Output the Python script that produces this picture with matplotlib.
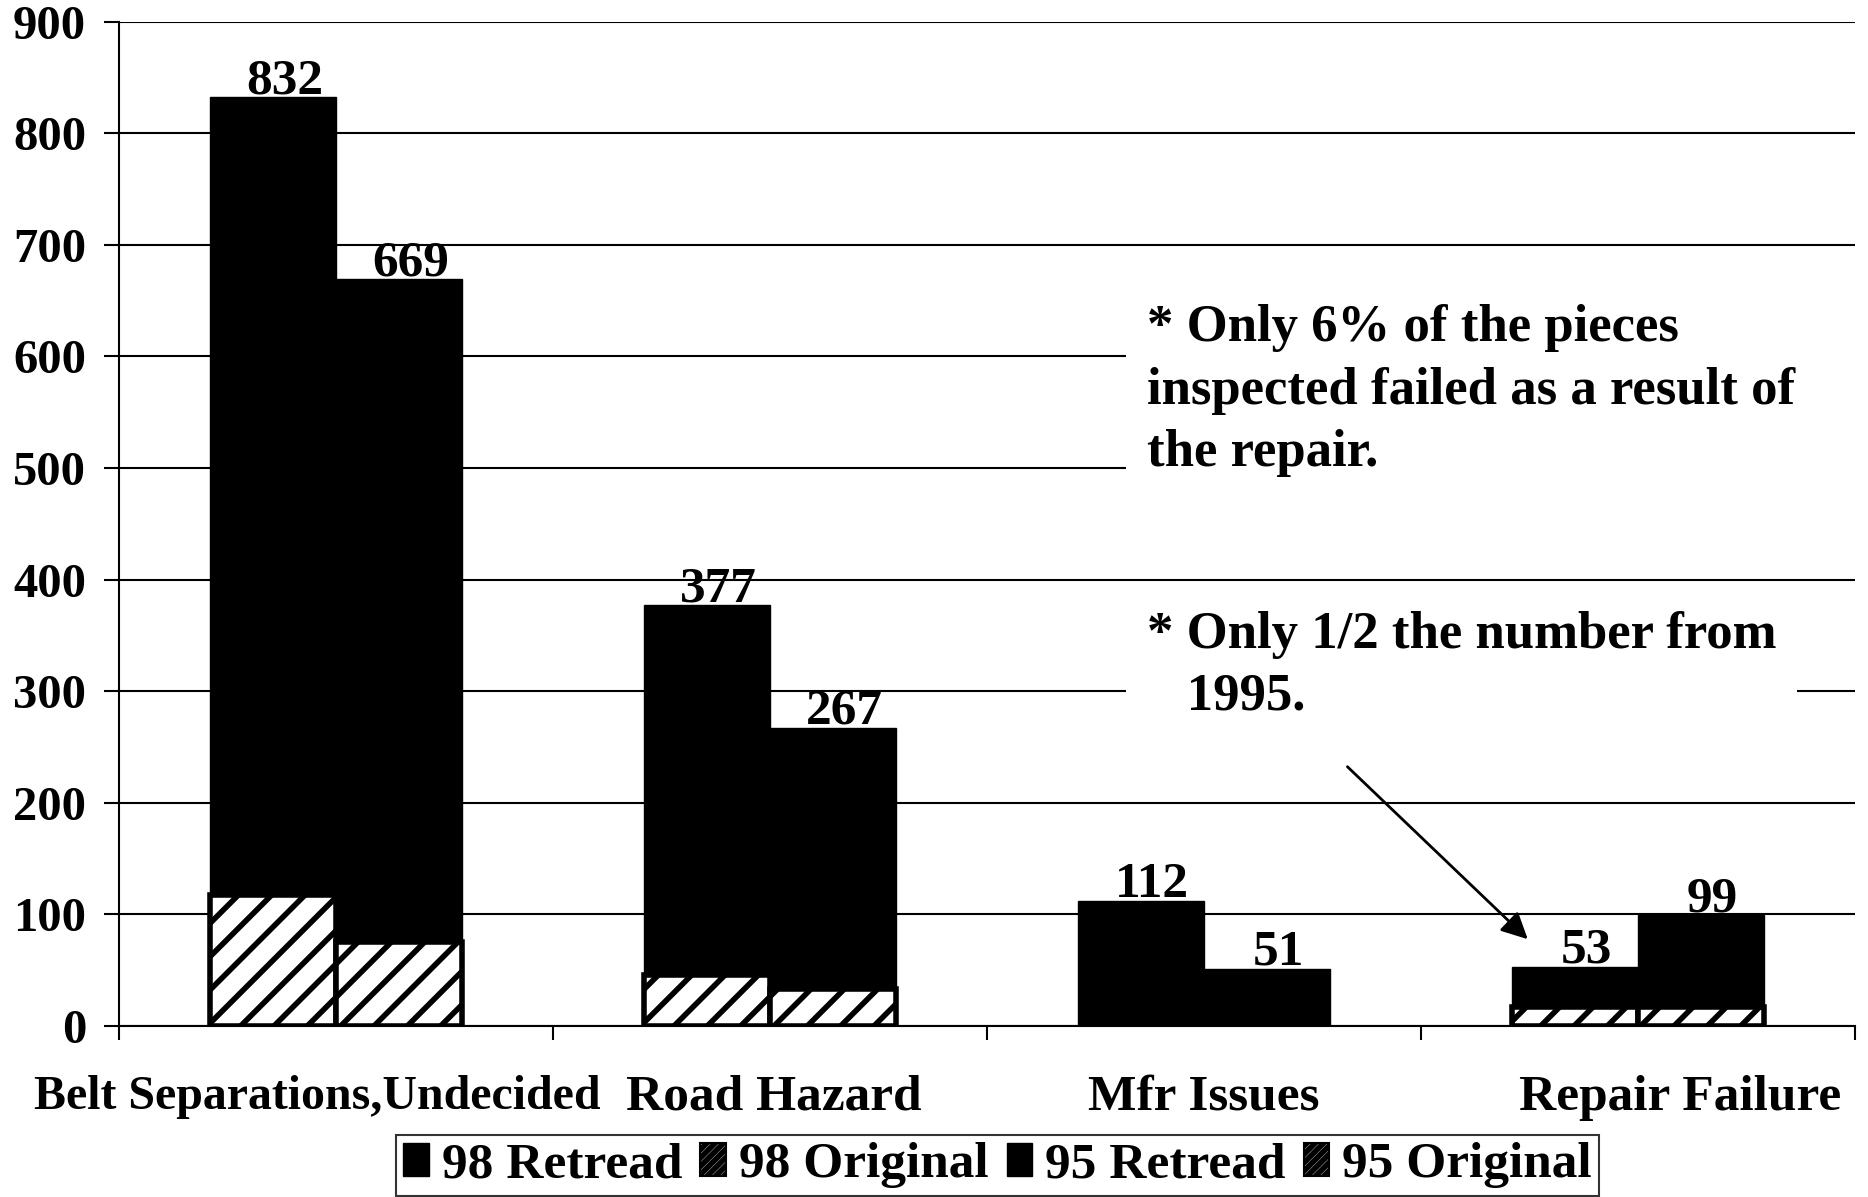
import matplotlib
matplotlib.use("Agg")
import matplotlib.pyplot as plt
import matplotlib.transforms as mtransforms
import numpy as np
from matplotlib.patches import Patch

categories = ["Belt Separations,Undecided", "Road Hazard", "Mfr Issues", "Repair Failure"]
total_98 = [832, 377, 112, 53]
total_95 = [669, 267, 51, 99]
original_98 = [117, 46, 0, 17]
original_95 = [75, 33, 0, 17]
yticks = [0, 100, 200, 300, 400, 500, 600, 700, 800, 900]
legend_labels = ["98 Retread", "98 Original", "95 Retread", "95 Original"]
note1 = "* Only 6% of the pieces\ninspected failed as a result of   \nthe repair."
note2 = "* Only 1/2 the number from\n   1995."

plt.rcParams['font.family'] = ['Liberation Serif', 'DejaVu Serif']
plt.rcParams['font.weight'] = 'bold'
plt.rcParams['hatch.linewidth'] = 4.0

fig = plt.figure(figsize=(18.68, 11.97), dpi=100)
ax = fig.add_axes([0.0639, 0.1429, 0.929, 0.8391])

x = np.arange(len(categories))
w = 0.29
retread_98 = [t - o for t, o in zip(total_98, original_98)]
retread_95 = [t - o for t, o in zip(total_95, original_95)]

ax.bar(x - w / 2, original_98, w, color='white', edgecolor='black', hatch='/', linewidth=4, zorder=3)
ax.bar(x - w / 2, retread_98, w, bottom=original_98, color='black', edgecolor='black', linewidth=1, zorder=3)
ax.bar(x + w / 2, original_95, w, color='white', edgecolor='black', hatch='/', linewidth=4, zorder=3)
ax.bar(x + w / 2, retread_95, w, bottom=original_95, color='black', edgecolor='black', linewidth=1, zorder=3)

for xs, tots in ((x - w / 2, total_98), (x + w / 2, total_95)):
    for xi, t in zip(xs, tots):
        ax.annotate(str(t), (xi, t), xytext=(8, 3), textcoords='offset points',
                    ha='center', va='baseline', fontsize=37, fontweight='bold', zorder=2)

ax.set_xlim(-0.5, len(categories) - 0.5)
ax.set_ylim(0, 900)
ax.set_yticks(yticks)
ax.set_yticklabels([str(v) for v in yticks], fontsize=35, fontweight='bold')
ax.tick_params(axis='y', length=11, width=1.5, pad=13)

ax.set_xticks(np.arange(len(categories) + 1) - 0.5)
ax.set_xticklabels([])
ax.tick_params(axis='x', which='major', length=10, width=1.5, direction='out')
ax.set_xticks(x, minor=True)
ax.set_xticklabels(categories, minor=True, fontweight='bold')
ax.tick_params(axis='x', which='minor', length=0, pad=35)
label_sizes = [34.5, 37, 37, 37]
label_shift = [-19, 4, 0, 42]
for lab, fs, dx in zip(ax.xaxis.get_minorticklabels(), label_sizes, label_shift):
    lab.set_fontsize(fs)
    lab.set_transform(lab.get_transform() + mtransforms.ScaledTranslation(dx / 100, 0, fig.dpi_scale_trans))

ax.yaxis.grid(True, color='black', linewidth=1.5, zorder=0)
ax.set_axisbelow(True)
for s in ('top', 'right'):
    ax.spines[s].set_visible(False)
ax.spines['left'].set_linewidth(1.5)
ax.spines['bottom'].set_linewidth(1.5)

ax.text(1.868, 647, note1, fontsize=38, fontweight='bold', va='top', ha='left', linespacing=1.4,
        bbox=dict(facecolor='white', edgecolor='none', pad=15), zorder=4)
ax.text(1.868, 372, note2, fontsize=38, fontweight='bold', va='top', ha='left', linespacing=1.38,
        bbox=dict(facecolor='white', edgecolor='none', pad=15), zorder=4)
ax.annotate("", xy=(2.751, 76), xytext=(2.326, 234),
            arrowprops=dict(arrowstyle='-|>', color='black', lw=2, mutation_scale=40), zorder=5)

handles = [Patch(facecolor='black', edgecolor='black'),
           Patch(facecolor='white', edgecolor='black', hatch='////', linewidth=1.5),
           Patch(facecolor='black', edgecolor='black'),
           Patch(facecolor='white', edgecolor='black', hatch='////', linewidth=1.5)]
leg = fig.legend(handles, legend_labels, loc='upper center', bbox_to_anchor=(0.534, 0.052), ncol=4,
                 fontsize=37, frameon=True, fancybox=False, handlelength=0.5, handleheight=0.6,
                 handletextpad=0.25, columnspacing=0.35, borderpad=0.15, borderaxespad=0)
leg.get_frame().set_edgecolor('black')
leg.get_frame().set_linewidth(1.5)
for t in leg.get_texts():
    t.set_fontweight('bold')

fig.savefig("out.png", dpi=100)
